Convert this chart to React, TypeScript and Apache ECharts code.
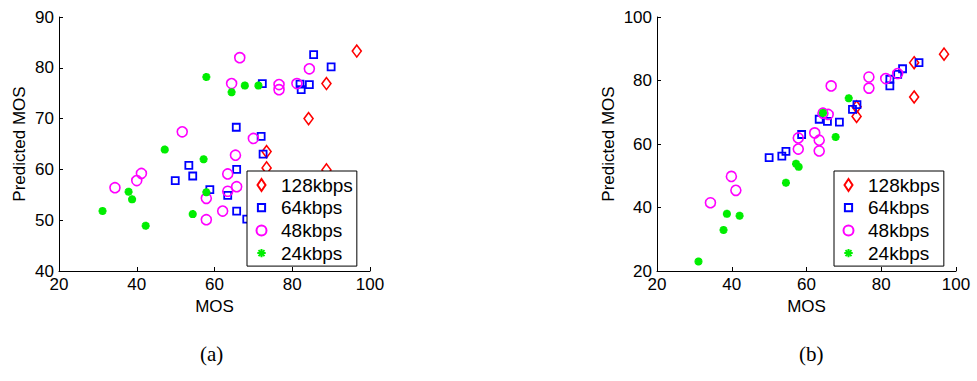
import React, { useEffect, useRef } from "react";
import * as echarts from "echarts";

// ---- Data (MOS, Predicted MOS) ----
const seriesNames = ["128kbps", "64kbps", "48kbps", "24kbps"];
const xTicks = [20, 40, 60, 80, 100];

// Plot (a)
const a128: number[][] = [[96.6, 83.3], [88.8, 76.9], [84.2, 70.0], [73.4, 63.5], [73.4, 60.3], [88.8, 59.9]];
const a64: number[][] = [
  [85.5, 82.6], [90.0, 80.2], [72.3, 76.9], [82.0, 76.8], [82.3, 75.7], [84.4, 76.7],
  [65.6, 68.3], [72.0, 66.5], [72.5, 63.0], [53.4, 60.8], [54.4, 58.7], [49.9, 57.8],
  [65.7, 60.0], [58.8, 56.0], [63.4, 54.9], [65.7, 51.8], [68.3, 50.2],
];
const a48: number[][] = [
  [66.5, 82.0], [84.4, 79.8], [64.4, 76.9], [76.6, 76.7], [76.6, 75.7], [81.2, 76.9],
  [51.7, 67.4], [70.0, 66.1], [65.4, 62.8], [63.4, 59.1], [65.7, 56.6], [63.4, 55.7],
  [57.9, 54.3], [62.1, 51.8], [57.9, 50.1], [41.2, 59.2], [40.0, 57.8], [34.4, 56.4],
];
const a24: number[][] = [
  [57.9, 78.2], [64.4, 75.2], [67.8, 76.5], [71.3, 76.5], [47.2, 63.9], [57.2, 62.0],
  [57.9, 55.5], [54.4, 51.2], [37.9, 55.6], [38.8, 54.1], [31.2, 51.8], [42.3, 48.9],
];

// Plot (b)
const b128: number[][] = [[96.8, 88.3], [88.8, 85.6], [88.8, 74.8], [73.4, 71.7], [73.4, 68.7]];
const b64: number[][] = [
  [90.1, 85.6], [85.7, 83.7], [84.4, 81.9], [82.3, 80.4], [82.3, 78.3], [73.5, 72.4],
  [72.3, 70.9], [63.4, 67.8], [65.6, 67.1], [68.8, 66.9], [58.7, 63.0], [54.5, 57.7],
  [53.4, 56.2], [50.0, 55.7],
];
const b48: number[][] = [
  [66.6, 78.3], [76.7, 81.1], [76.7, 77.6], [81.2, 80.6], [84.4, 82.2], [64.4, 69.7],
  [65.8, 69.3], [62.2, 63.5], [63.4, 61.2], [57.8, 61.9], [57.8, 58.4], [63.4, 57.8],
  [39.9, 49.8], [41.1, 45.4], [34.3, 41.5],
];
const b24: number[][] = [
  [31.1, 23.0], [37.8, 32.9], [38.7, 38.0], [42.1, 37.4], [54.5, 47.8], [57.2, 53.8],
  [57.9, 52.8], [67.8, 62.2], [64.4, 69.8], [71.3, 74.4],
];

const captions = ["(a)", "(b)"];

const FONT = "Liberation Sans, Arial, sans-serif";
const colors = ["#ff0000", "#0000ff", "#ff00ff", "#00ee00"];
const DIAMOND = "path://M0,-6L4,0L0,6L-4,0Z";
const SQUARE = "path://M-3.5,-3.5L3.5,-3.5L3.5,3.5L-3.5,3.5Z";
const STAR = "path://M0,-5L0,5M-5,0L5,0M-3.6,-3.6L3.6,3.6M-3.6,3.6L3.6,-3.6";
const symbols = [DIAMOND, SQUARE, "circle", STAR];
const sizes: (number | number[])[] = [[9, 12], 7, 10, 8];
const borderW = [1.6, 1.8, 1.6, 2.6];

// legend icons (with invisible extents to keep relative sizes)
const legendIcons = [
  "path://M0,-6L4,0L0,6L-4,0Z",
  "path://M-6,-6L-6,-6M-3.6,-3.6L3.6,-3.6L3.6,3.6L-3.6,3.6ZM6,6L6,6",
  "path://M-6,-6L-6,-6M0,-5A5,5,0,1,1,0,5A5,5,0,1,1,0,-5ZM6,6L6,6",
  "path://M-6,-6L-6,-6M0,-4.2L0,4.2M-4.2,0L4.2,0M-3,-3L3,3M-3,3L3,-3M6,6L6,6",
];

function makeSeries(data: number[][], i: number, gi: number) {
  return {
    type: "scatter",
    name: seriesNames[i],
    xAxisIndex: gi,
    yAxisIndex: gi,
    data,
    symbol: symbols[i],
    symbolSize: sizes[i],
    itemStyle: { color: "rgba(0,0,0,0)", borderColor: colors[i], borderWidth: borderW[i], opacity: 1 },
    emphasis: { disabled: true },
  };
}

function axisCommon() {
  return {
    axisLine: { show: true, onZero: false, lineStyle: { color: "#000", width: 1 } },
    axisTick: { show: true, inside: true, length: 4, lineStyle: { color: "#000" } },
    splitLine: { show: false },
    axisLabel: { color: "#000", fontSize: 17, fontFamily: FONT },
    nameTextStyle: { color: "#000", fontSize: 17, fontFamily: FONT },
  };
}

function legend(left: number) {
  return {
    orient: "vertical",
    left,
    top: 171,
    padding: [4.5, 4, 3.5, 7.5],
    itemGap: 3.7,
    itemWidth: 29,
    itemHeight: 12,
    borderColor: "#000",
    borderWidth: 1,
    backgroundColor: "#fff",
    selectedMode: false,
    textStyle: { color: "#000", fontSize: 19, fontFamily: FONT },
    data: seriesNames.map((n, i) => ({ name: n, icon: legendIcons[i] })),
  };
}

export default function App() {
  const ref = useRef<HTMLDivElement>(null);
  useEffect(() => {
    if (!ref.current) return;
    const chart = echarts.init(ref.current, undefined, { renderer: "svg" });
    const capStyle = { fontSize: 21, fontFamily: "Liberation Serif, Times New Roman, serif", fill: "#000" };
    const option = {
      animation: false,
      backgroundColor: "#fff",
      grid: [
        { left: 59, top: 17, width: 311, height: 254 },
        { left: 657, top: 17, width: 299, height: 254 },
      ],
      xAxis: [0, 1].map((gi) => ({
        ...axisCommon(),
        type: "value",
        gridIndex: gi,
        min: xTicks[0],
        max: xTicks[xTicks.length - 1],
        interval: 20,
        name: "MOS",
        nameLocation: "middle",
        nameGap: 24,
        axisLabel: { ...axisCommon().axisLabel, margin: 5 },
      })),
      yAxis: [
        {
          ...axisCommon(),
          type: "value",
          gridIndex: 0,
          min: 40,
          max: 90,
          interval: 10,
          name: "Predicted MOS",
          nameLocation: "middle",
          nameGap: 31,
          axisLabel: { ...axisCommon().axisLabel, margin: 5 },
        },
        {
          ...axisCommon(),
          type: "value",
          gridIndex: 1,
          min: 20,
          max: 100,
          interval: 20,
          name: "Predicted MOS",
          nameLocation: "middle",
          nameGap: 40,
          axisLabel: { ...axisCommon().axisLabel, margin: 5 },
        },
      ],
      legend: [legend(247), legend(834)],
      series: [
        makeSeries(a128, 0, 0),
        makeSeries(a64, 1, 0),
        makeSeries(a48, 2, 0),
        makeSeries(a24, 3, 0),
        makeSeries(b128, 0, 1),
        makeSeries(b64, 1, 1),
        makeSeries(b48, 2, 1),
        makeSeries(b24, 3, 1),
      ],
      graphic: [
        { type: "text", left: 213 - 13, top: 343, style: { text: captions[0], ...capStyle } },
        { type: "text", left: 812 - 13, top: 343, style: { text: captions[1], ...capStyle } },
      ],
    };
    chart.setOption(option as any);
    return () => chart.dispose();
  }, []);
  return (
    <div
      ref={ref}
      style={{ position: "fixed", left: 0, top: 0, width: 977, height: 381, background: "#fff" }}
    />
  );
}
